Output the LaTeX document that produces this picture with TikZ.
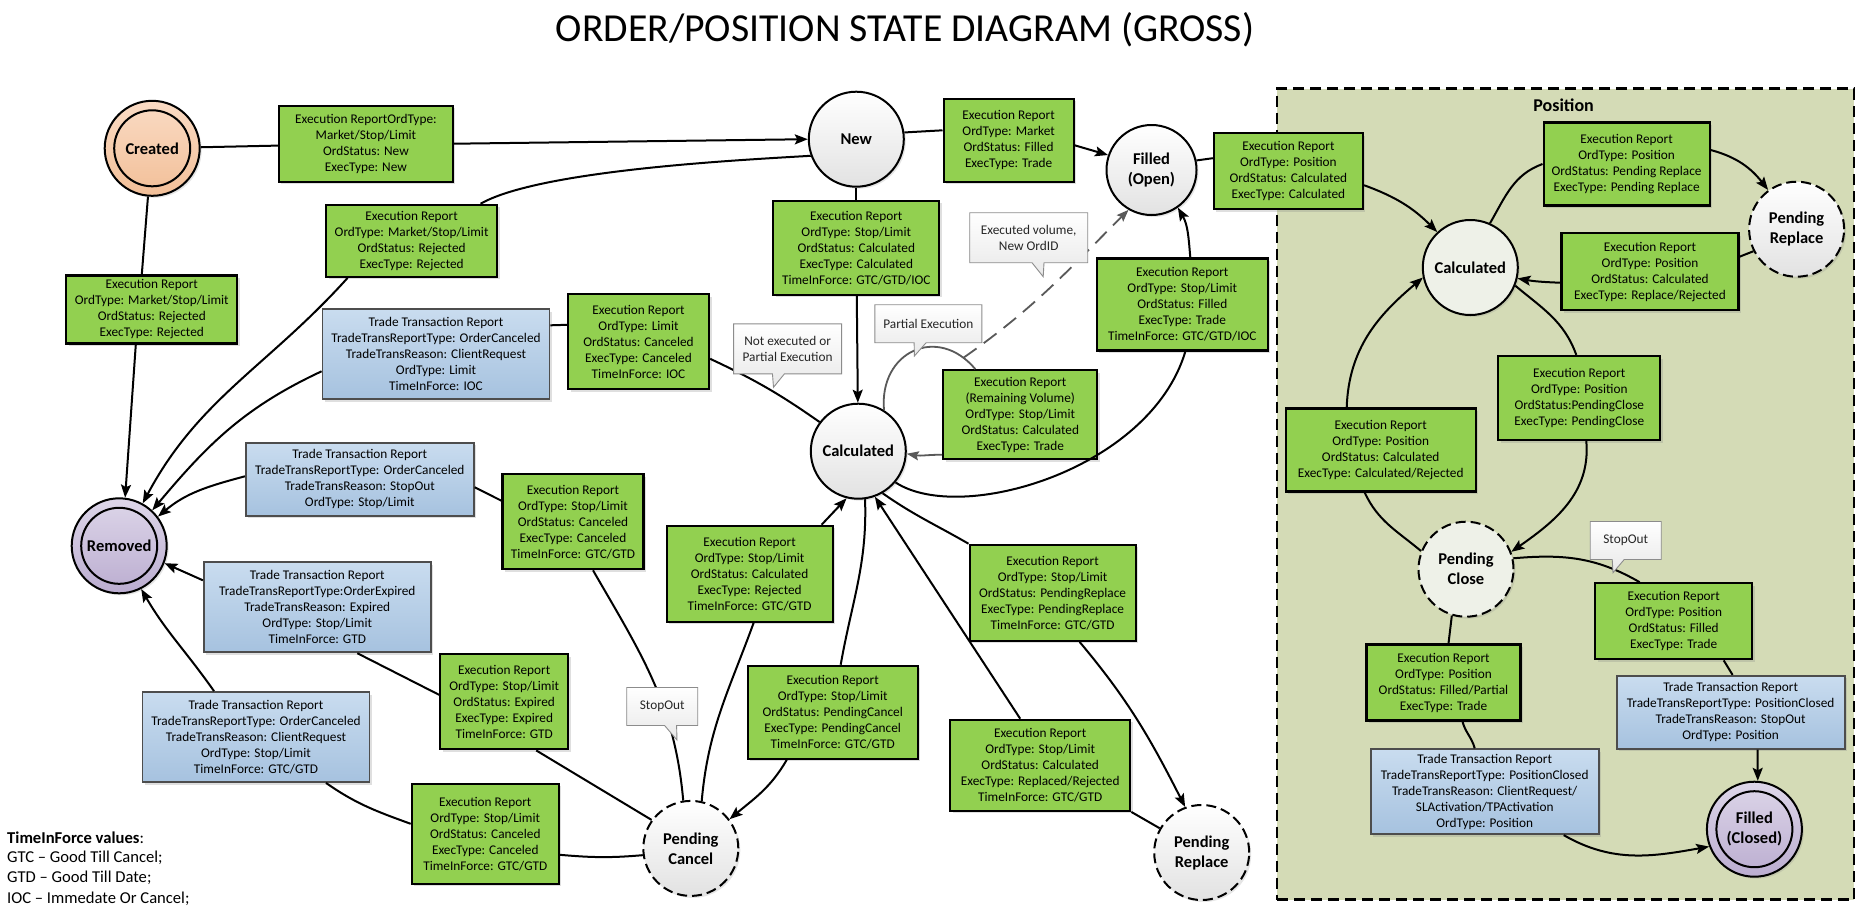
\documentclass[tikz,border=0pt]{standalone}
\usepackage{fontspec}
\setmainfont{Carlito}
\usepackage{xcolor}
\usetikzlibrary{positioning, arrows.meta, shapes.callouts, shadows}
\definecolor{erGreen}{HTML}{92D050}
\definecolor{ttTop}{HTML}{C9DCEF}
\definecolor{ttBot}{HTML}{A6C2DF}
\definecolor{ttEdge}{HTML}{4D4D4D}
\definecolor{posFill}{HTML}{D4DBB6}
\definecolor{stBot}{HTML}{E2E2E2}
\definecolor{stPos}{HTML}{EEF1E8}
\definecolor{crTop}{HTML}{FADBC4}
\definecolor{crBot}{HTML}{F2BF98}
\definecolor{rmTop}{HTML}{DDD6E9}
\definecolor{rmBot}{HTML}{BBADD0}
\definecolor{noteEdge}{HTML}{8C8C8C}
\definecolor{loopGray}{HTML}{595959}
\tikzset{
  erbox/.style={draw=black, line width=2.2pt, fill=erGreen, align=center, inner sep=0pt,
    font=\fontsize{13.3}{16}\selectfont, drop shadow={shadow xshift=2.5pt, shadow yshift=-2.5pt, opacity=0.25}},
  ttbox/.style={erbox, draw=ttEdge, line width=1.8pt, top color=ttTop, bottom color=ttBot},
  stbase/.style={circle, draw=black, line width=2pt, minimum size=95pt, inner sep=0pt, align=center,
    font=\fontsize{16.5}{20}\selectfont\bfseries, drop shadow={shadow xshift=2pt, shadow yshift=-2pt, opacity=0.2}},
  stnode/.style={stbase, top color=white, bottom color=stBot},
  pendnode/.style={stnode, dash pattern=on 10pt off 5pt},
  posst/.style={stbase, fill=stPos},
  endst/.style={stbase, top color=rmTop, bottom color=rmBot},
  notebox/.style={rectangle callout, draw=noteEdge, line width=0.9pt, top color=white, bottom color=black!9,
    align=center, inner sep=0pt, text=black!85, font=\fontsize{13.3}{16}\selectfont, callout pointer width=12pt},
  edgeln/.style={line width=2pt},
  edgearr/.style={edgeln, -{Stealth[length=13pt, width=10pt, inset=2.5pt]}},
  loopln/.style={line width=1.8pt, draw=loopGray}
}
\begin{document}
\begin{tikzpicture}[x=1pt, y=-1pt]
  \useasboundingbox (0,0) rectangle (1855,922);
  \fill[white] (0,0) rectangle (1855,922);
  \node[font=\fontsize{39.7}{46}\selectfont] (title) at (905,30) {ORDER/POSITION STATE DIAGRAM (GROSS)};
  \node[draw=black, line width=2.4pt, dash pattern=on 11pt off 6pt, fill=posFill, anchor=north west,
    minimum width=577pt, minimum height=811pt] (position) at (1276,87.3) {};
  \node[font=\fontsize{18}{22}\selectfont\bfseries] (postitle) at (1563.6,105) {Position};

  \node[stbase, top color=crTop, bottom color=crBot] (created) at (152.2,148.3) {Created};
  \node[endst] (removed) at (119.2,545.8) {Removed};
  \node[endst] (filledclosed) at (1754.4,829.2) {Filled\\(Closed)};
  \foreach \nm in {created, removed, filledclosed}
    \draw[line width=2pt] (\nm.center) circle[radius=38pt];
  \foreach \nm/\x/\y/\txt in {newst/856.3/139.2/New, calcmain/858.3/451.2/Calculated}
    \node[stnode] (\nm) at (\x,\y) {\txt};
  \node[stnode, minimum size=90pt] (filledopen) at (1151.5,170) {Filled\\(Open)};
  \foreach \nm/\x/\y/\txt in {pcancel/690.8/848.4/{Pending\\Cancel}, preplace/1201.7/852.5/{Pending\\Replace},
      prpos/1796.6/229.2/{Pending\\Replace}}
    \node[pendnode] (\nm) at (\x,\y) {\txt};
  \node[posst] (calcpos) at (1470.3,267.5) {Calculated};
  \node[posst, dash pattern=on 10pt off 5pt] (pclose) at (1466,569.2) {Pending\\Close};

  \foreach \nm/\x/\y/\w/\h/\txt in {
      b1/365.9/143.7/174/76/{Execution ReportOrdType:\\Market/Stop/Limit\\OrdStatus: New\\ExecType: New},
      b2/151.8/309.5/171/68/{Execution Report\\OrdType: Market/Stop/Limit\\OrdStatus: Rejected\\ExecType: Rejected},
      b3/411.6/240.8/171/72/{Execution Report\\OrdType: Market/Stop/Limit\\OrdStatus: Rejected\\ExecType: Rejected},
      b5/638.5/341.8/141/95/{Execution Report\\OrdType: Limit\\OrdStatus: Canceled\\ExecType: Canceled\\TimeInForce: IOC},
      b6/856.3/247.8/166/94/{Execution Report\\OrdType: Stop/Limit\\OrdStatus: Calculated\\ExecType: Calculated\\TimeInForce: GTC/GTD/IOC},
      b7/1008.6/140.3/130/83/{Execution Report\\OrdType: Market\\OrdStatus: Filled\\ExecType: Trade},
      b8/1020.3/414.7/154/89/{Execution Report\\(Remaining Volume)\\OrdType: Stop/Limit\\OrdStatus: Calculated\\ExecType: Trade},
      b9/1182.3/304.5/171/92/{Execution Report\\OrdType: Stop/Limit\\OrdStatus: Filled\\ExecType: Trade\\TimeInForce: GTC/GTD/IOC},
      b11/573/521.7/141/95/{Execution Report\\OrdType: Stop/Limit\\OrdStatus: Canceled\\ExecType: Canceled\\TimeInForce: GTC/GTD},
      b13/504.2/701.8/128/95/{Execution Report\\OrdType: Stop/Limit\\OrdStatus: Expired\\ExecType: Expired\\TimeInForce: GTD},
      b15/485.3/833.8/147/100/{Execution Report\\OrdType: Stop/Limit\\OrdStatus: Canceled\\ExecType: Canceled\\TimeInForce: GTC/GTD},
      b16/749.6/573.8/166/96/{Execution Report\\OrdType: Stop/Limit\\OrdStatus: Calculated\\ExecType: Rejected\\TimeInForce: GTC/GTD},
      b17/832.7/712.3/170/93/{Execution Report\\OrdType: Stop/Limit\\OrdStatus: PendingCancel\\ExecType: PendingCancel\\TimeInForce: GTC/GTD},
      b18/1052.6/592.8/166/96/{Execution Report\\OrdType: Stop/Limit\\OrdStatus: PendingReplace\\ExecType: PendingReplace\\TimeInForce: GTC/GTD},
      b19/1040.2/765.3/180/91/{Execution Report\\OrdType: Stop/Limit\\OrdStatus: Calculated\\ExecType: Replaced/Rejected\\TimeInForce: GTC/GTD},
      b20/1288.4/171.2/149/76/{Execution Report\\OrdType: Position\\OrdStatus: Calculated\\ExecType: Calculated},
      b21/1626.6/164/166/83/{Execution Report\\OrdType: Position\\OrdStatus: Pending Replace\\ExecType: Pending Replace},
      b22/1650/271.7/177/77/{Execution Report\\OrdType: Position\\OrdStatus: Calculated\\ExecType: Replace/Rejected},
      b23/1579.3/398/162/84/{Execution Report\\OrdType: Position\\OrdStatus:PendingClose\\ExecType: PendingClose},
      b24/1380.7/450/190/83/{Execution Report\\OrdType: Position\\OrdStatus: Calculated\\ExecType: Calculated/Rejected},
      b25/1673.7/621.3/157/76/{Execution Report\\OrdType: Position\\OrdStatus: Filled\\ExecType: Trade},
      b26/1443.5/682.5/154/76/{Execution Report\\OrdType: Position\\OrdStatus: Filled/Partial\\ExecType: Trade}}
    \node[erbox, minimum width=\w pt, minimum height=\h pt] (\nm) at (\x,\y) {\txt};
  \foreach \nm/\x/\y/\w/\h/\txt in {
      b4/436/354.3/227/90/{Trade Transaction Report\\TradeTransReportType: OrderCanceled\\TradeTransReason: ClientRequest\\OrdType: Limit\\TimeInForce: IOC},
      b10/359.8/479.3/228/73/{Trade Transaction Report\\TradeTransReportType: OrderCanceled\\TradeTransReason: StopOut\\OrdType: Stop/Limit},
      b12/317.3/607.3/227/90/{Trade Transaction Report\\TradeTransReportType:OrderExpired\\TradeTransReason: Expired\\OrdType: Stop/Limit\\TimeInForce: GTD},
      b14/256/737/227/90/{Trade Transaction Report\\TradeTransReportType: OrderCanceled\\TradeTransReason: ClientRequest\\OrdType: Stop/Limit\\TimeInForce: GTC/GTD},
      b27/1730.6/712.3/228/73/{Trade Transaction Report\\TradeTransReportType: PositionClosed\\TradeTransReason: StopOut\\OrdType: Position},
      b28/1484.7/791.7/228/85/{Trade Transaction Report\\TradeTransReportType: PositionClosed\\TradeTransReason: ClientRequest/\\SLActivation/TPActivation\\OrdType: Position}}
    \node[ttbox, minimum width=\w pt, minimum height=\h pt] (\nm) at (\x,\y) {\txt};

  \draw[edgeln] (created) -- (b1);
  \draw[edgearr] (b1.east) -- (newst.west);
  \draw[edgeln] (created.265) -- ([xshift=-10]b2.north);
  \draw[edgearr] ([xshift=-16]b2.south) -- (removed.83);
  \draw[edgeln] (newst.200) .. controls (740,160) and (540,170) .. ([xshift=69]b3.north);
  \draw[edgearr] ([xshift=-64]b3.south) to[out=228, in=62] (removed.61);
  \draw[edgeln] (calcmain.143) to[out=145, in=-25] ([yshift=-17]b5.east);
  \draw[edgeln] ([yshift=29]b4.east) -- ([yshift=17]b5.west);
  \draw[edgearr] ([yshift=-17]b4.west) to[out=205, in=50] (removed.47);
  \draw[edgeln] ([xshift=20]b11.south) to[out=-60, in=95] (pcancel.99);
  \draw[edgeln] ([yshift=-8]b10.east) -- ([yshift=21]b11.west);
  \draw[edgearr] ([yshift=3]b10.west) to[out=195, in=40] (removed.37);
  \draw[edgeln] (pcancel.144) -- ([xshift=32]b13.south);
  \draw[edgeln] ([yshift=7]b13.west) -- ([xshift=40]b12.south);
  \draw[edgearr] ([yshift=27]b12.west) -- (removed.-21);
  \draw[edgeln] (pcancel.188) to[out=185, in=-5] ([yshift=-21]b15.east);
  \draw[edgeln] ([yshift=10]b15.west) to[out=160, in=-35] ([xshift=70]b14.south);
  \draw[edgearr] ([xshift=-42]b14.north) to[out=125, in=-60] (removed.-63);
  \draw[edgeln] (pcancel.77) to[out=85, in=-110] ([xshift=4]b16.south);
  \draw[edgearr] ([xshift=72]b16.north) -- (calcmain.-104);
  \draw[edgeln] (calcmain.-82) to[out=-88, in=80] ([xshift=8]b17.north);
  \draw[edgearr] ([xshift=-46]b17.south) to[out=-120, in=40] (pcancel.37);
  \draw[edgeln] (preplace.150) -- (b19.south east);
  \draw[edgearr] ([xshift=-20]b19.north) -- (calcmain.-70);
  \draw[edgeln] (calcmain.-60) to[out=-35, in=150] (b18.north west);
  \draw[edgearr] ([xshift=27]b18.south) to[out=-50, in=117] (preplace.110);
  \draw[edgeln] (calcmain.-40) .. controls (960,525) and (1150,470) .. ([xshift=3]b9.south);
  \draw[edgearr] ([xshift=8]b9.north) to[out=95, in=-60] (filledopen.-55);
  \draw[edgeln] (newst) -- (b6);
  \draw[edgearr] (b6) -- (calcmain);
  \draw[edgeln] (newst.8) -- ([yshift=10]b7.west);
  \draw[edgearr] ([yshift=-5]b7.east) -- (filledopen.161);
  \draw[loopln] (calcmain.58) to[out=95, in=130, looseness=1.5] coordinate[pos=0.9] (partexec) ([xshift=-45]b8.north);
  \draw[loopln, -{Stealth[length=12pt, width=9pt, inset=2pt]}] ([yshift=-40]b8.west) to[out=180, in=-10] (calcmain.-3);
  \draw[loopln, dash pattern=on 16pt off 9pt, -{Stealth[length=12pt, width=9pt, inset=2pt]}] (partexec) to[out=35, in=-135] (filledopen.-120);

  \draw[edgeln] (filledopen.12) -- ([yshift=13]b20.west);
  \draw[edgearr] ([yshift=-14]b20.east) to[out=-20, in=135] (calcpos.133);
  \draw[edgeln] (calcpos.66) to[out=60, in=200] (b21.west);
  \draw[edgearr] ([yshift=14]b21.east) to[out=-15, in=128] (prpos.126);
  \draw[edgeln] (prpos.207) -- ([yshift=15]b22.east);
  \draw[edgearr] ([yshift=-11]b22.west) to[out=178, in=-10] (calcpos.-13);
  \draw[edgeln] (calcpos.-22) to[out=-40, in=110] ([xshift=-3]b23.north);
  \draw[edgearr] ([xshift=7]b23.south) to[out=-85, in=35] (pclose.21);
  \draw[edgeln] (pclose.158) to[out=140, in=-65] ([xshift=-16]b24.south);
  \draw[edgearr] ([xshift=-34]b24.north) to[out=88, in=220] (calcpos.192);
  \draw[edgeln] (pclose.13) to[out=5, in=150] ([xshift=-34]b25.north);
  \draw[edgeln] ([xshift=50]b25.south) -- ([xshift=2]b27.north);
  \draw[edgearr] ([xshift=27]b27.south) -- (filledclosed.86);
  \draw[edgeln] (pclose.-107) -- ([xshift=5]b26.north);
  \draw[edgeln] ([xshift=19]b26.south) to[out=-75, in=105] ([xshift=-10]b28.north);
  \draw[edgearr] ([xshift=79]b28.south) to[out=-30, in=190] (filledclosed.201);

  \foreach \nm/\x/\y/\w/\h/\px/\py/\txt in {
      noteA/787.6/348.8/108/50/773.5/387.3/{Not executed or\\Partial Execution},
      noteB/1028.7/237.7/118/50/1043.2/276.7/{Executed volume,\\New OrdID},
      noteC/928.3/323.7/107/38/914.4/356/{Partial Execution},
      noteD/662.2/706.5/71/38/677/740/{StopOut},
      noteE/1625.7/540.5/71/38/1613/572.7/{StopOut}}
    \node[notebox, minimum width=\w pt, minimum height=\h pt, callout absolute pointer={(\px,\py)}] (\nm) at (\x,\y) {\txt};

  \foreach \i/\t in {0/{\textbf{TimeInForce values}:}, 1/{GTC -- Good Till Cancel;}, 2/{GTD -- Good Till Date;}, 3/{IOC -- Immedate Or Cancel;}}
    \node[font=\fontsize{16.6}{20}\selectfont, anchor=west, inner sep=0pt] (legend\i) at (7,{837.7+20.2*\i}) {\t};
\end{tikzpicture}
\end{document}
